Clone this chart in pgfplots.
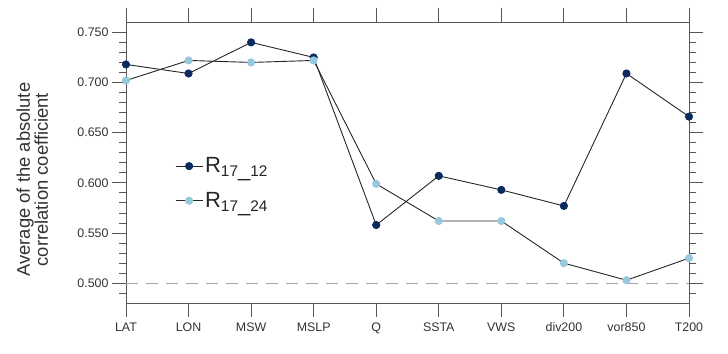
\documentclass[border=0pt]{standalone}
\usepackage{fontspec}
\setmainfont{Liberation Sans}
\usepackage{pgfplots}
\pgfplotsset{compat=1.18}
\definecolor{darkblue}{HTML}{0B2B5C}
\definecolor{lightblue}{HTML}{98C8DE}
\definecolor{axgray}{HTML}{555555}
\tikzset{tk/.style={draw=axgray, line width=0.9bp}}
\begin{document}
\begin{tikzpicture}
\begin{axis}[
  scale only axis, clip=false,
  width=563bp, height=281.3bp,
  xmin=0, xmax=9, ymin=0.48, ymax=0.7603,
  xtick={0,...,9},
  xticklabels={LAT,LON,MSW,MSLP,Q,SSTA,VWS,div200,vor850,T200},
  ytick={0.5,0.55,0.6,0.65,0.7,0.75},
  minor y tick num=4,
  tick align=outside,
  major tick length=14bp, minor tick length=7bp,
  major tick style={draw=axgray, line width=0.9bp},
  minor tick style={draw=axgray, line width=0.9bp},
  axis line style={axgray, line width=0.9bp},
  /pgf/number format/assume math mode=true,
  yticklabel style={/pgf/number format/fixed, /pgf/number format/fixed zerofill, /pgf/number format/precision=3, font=\fontsize{12.4bp}{14bp}\selectfont, text=black!80},
  xticklabel style={font=\fontsize{12.4bp}{14bp}\selectfont, text=black!80, yshift=-2bp},
  ylabel={\begin{tabular}{c}Average of the absolute\\[-2bp] correlation coefficient\end{tabular}},
  ylabel style={font=\fontsize{18.4bp}{20bp}\selectfont, text=black!80, at={([xshift=-91bp,yshift=-17bp]rel axis cs:0,0.5)}, anchor=center},
  legend style={draw=none, fill=none, at={(rel axis cs:0.087,0.525)}, anchor=north west, font=\fontsize{22bp}{24bp}\selectfont, row sep=14bp, inner sep=0pt, text=black!85},
  legend cell align=left,
  legend image code/.code={\draw[mark repeat=2,mark phase=2,#1] plot coordinates {(0bp,0bp) (13.5bp,0bp) (27bp,0bp)};},
]
\addplot[black!35, dash pattern=on 12bp off 8bp, line width=0.9bp, forget plot] coordinates {(0,0.5) (9,0.5)};
\addplot[black!85, line width=0.9bp, mark=*, mark size=3.6bp, mark options={fill=darkblue, draw=darkblue}] coordinates {
(0,0.718) (1,0.709) (2,0.740) (3,0.725) (4,0.558) (5,0.607) (6,0.593) (7,0.577) (8,0.709) (9,0.666)};
\addlegendentry{R$_{\mathrm{17\_12}}$}
\addplot[black!85, line width=0.9bp, mark=*, mark size=3.6bp, mark options={fill=lightblue, draw=lightblue}] coordinates {
(0,0.702) (1,0.722) (2,0.720) (3,0.722) (4,0.599) (5,0.562) (6,0.562) (7,0.520) (8,0.503) (9,0.525)};
\addlegendentry{R$_{\mathrm{17\_24}}$}
\pgfplotsinvokeforeach{0,1,2,3,4,5,6,7,8,9}{
  \draw[tk] (axis cs:#1,0.48) -- ++(0bp,-14bp);
  \draw[tk] (axis cs:#1,0.7603) -- ++(0bp,14bp);
}
\pgfplotsinvokeforeach{0.49,0.51,0.52,0.53,0.54,0.56,0.57,0.58,0.59,0.61,0.62,0.63,0.64,0.66,0.67,0.68,0.69,0.71,0.72,0.73,0.74}{
  \draw[tk] (axis cs:0,#1) -- ++(-7bp,0bp);
  \draw[tk] (axis cs:9,#1) -- ++(7bp,0bp);
}
\pgfplotsinvokeforeach{0.5,0.55,0.6,0.65,0.7,0.75}{
  \draw[tk] (axis cs:0,#1) -- ++(-14bp,0bp);
  \draw[tk] (axis cs:9,#1) -- ++(14bp,0bp);
}
\end{axis}
\path (-126bp,-50.7bp) rectangle (602bp,303.3bp);
\end{tikzpicture}
\end{document}
